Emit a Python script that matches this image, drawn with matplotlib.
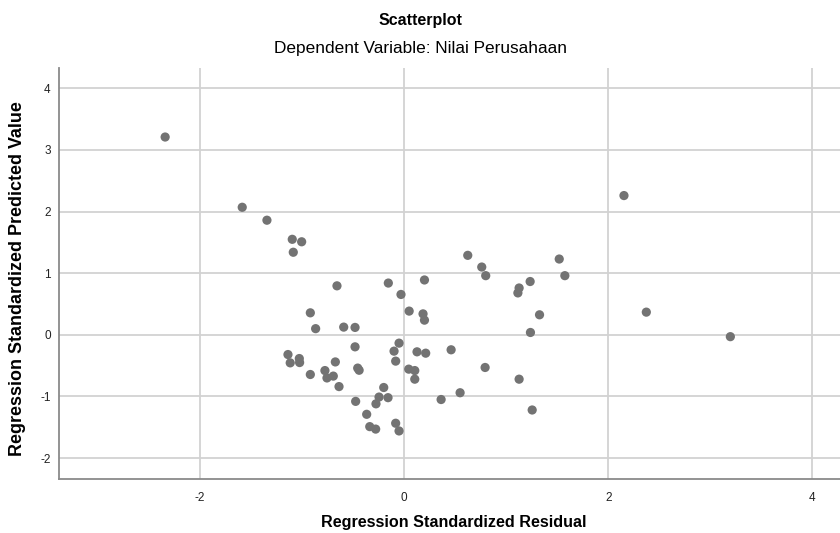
import matplotlib
matplotlib.use("Agg")
import matplotlib.pyplot as plt

# Regression standardized residual (x) and predicted value (y)
residual = [
    -2.34, -1.585, -1.343, -1.095, -1.003, -1.085, -0.657, -0.154, -0.03, 2.154,
    0.624, 0.761, 0.80, 0.20, 1.52, 1.575, 1.127, 1.115, 1.235, -0.918,
    -0.866, -0.591, -0.48, 0.05, -0.049, -0.48, -0.098, -0.082, -1.137, -1.115,
    -1.026, -1.023, -0.673, -0.918, -0.775, -0.755, -0.693, -0.637, -0.454, -0.44,
    -0.199, -0.245, -0.157, -0.275, -0.474, -0.366, -0.336, -0.278, -0.082, -0.049,
    0.046, 0.105, 0.105, 0.127, 0.186, 0.20, 1.327, 2.373, 1.238, 3.196,
    0.212, 0.461, 0.794, 1.127, 0.549, 0.363, 1.255,
]
predicted = [
    3.21, 2.07, 1.86, 1.55, 1.51, 1.34, 0.795, 0.84, 0.655, 2.26,
    1.29, 1.10, 0.96, 0.89, 1.23, 0.96, 0.76, 0.68, 0.865, 0.357,
    0.10, 0.125, 0.12, 0.385, -0.135, -0.195, -0.265, -0.427, -0.32, -0.455,
    -0.385, -0.45, -0.44, -0.644, -0.58, -0.70, -0.67, -0.84, -0.54, -0.575,
    -0.855, -1.01, -1.02, -1.12, -1.08, -1.29, -1.49, -1.53, -1.435, -1.56,
    -0.557, -0.58, -0.72, -0.276, 0.34, 0.238, 0.325, 0.368, 0.038, -0.03,
    -0.298, -0.243, -0.53, -0.72, -0.94, -1.05, -1.22,
]
x_ticks = [-2, 0, 2, 4]
y_ticks = [-2, -1, 0, 1, 2, 3, 4]

plt.rcParams["font.family"] = ["Liberation Sans", "DejaVu Sans"]
plt.rcParams["axes.unicode_minus"] = False

fig = plt.figure(figsize=(8.4, 5.33), dpi=100)
ax = fig.add_axes([0.0702, 0.1013, 0.9298, 0.7711])

ax.scatter(residual, predicted, s=44, color="#737373", edgecolors="none", zorder=3)

ax.set_xlim(-3.38, 4.27)
ax.set_ylim(-2.34, 4.33)
ax.set_xticks(x_ticks)
ax.set_yticks(y_ticks)
ax.grid(True, color="#d2d2d2", linewidth=1.3)
ax.set_axisbelow(True)
ax.tick_params(axis="x", length=0, labelsize=8.5, colors="#222222", pad=9)
ax.tick_params(axis="y", length=0, labelsize=8.5, colors="#222222", pad=6)

for side in ("top", "right"):
    ax.spines[side].set_visible(False)
for side in ("left", "bottom"):
    ax.spines[side].set_color("#8a8a8a")
    ax.spines[side].set_linewidth(1.3)

fig.text(454 / 840, 1 - 523 / 533, "Regression Standardized Residual",
         ha="center", va="center", fontsize=11.6, fontweight="bold")
fig.text(18 / 840, 1 - 279 / 533, "Regression Standardized Predicted Value",
         ha="center", va="center", rotation=90, fontsize=12.9, fontweight="bold")

fig.text(0.5, 1 - 20 / 533, "Scatterplot", ha="center", va="center", fontsize=11.5, fontweight="bold")
fig.text(0.5, 1 - 49 / 533, "Dependent Variable: Nilai Perusahaan", ha="center", va="center", fontsize=12.4)

fig.savefig("out.png", dpi=100)
